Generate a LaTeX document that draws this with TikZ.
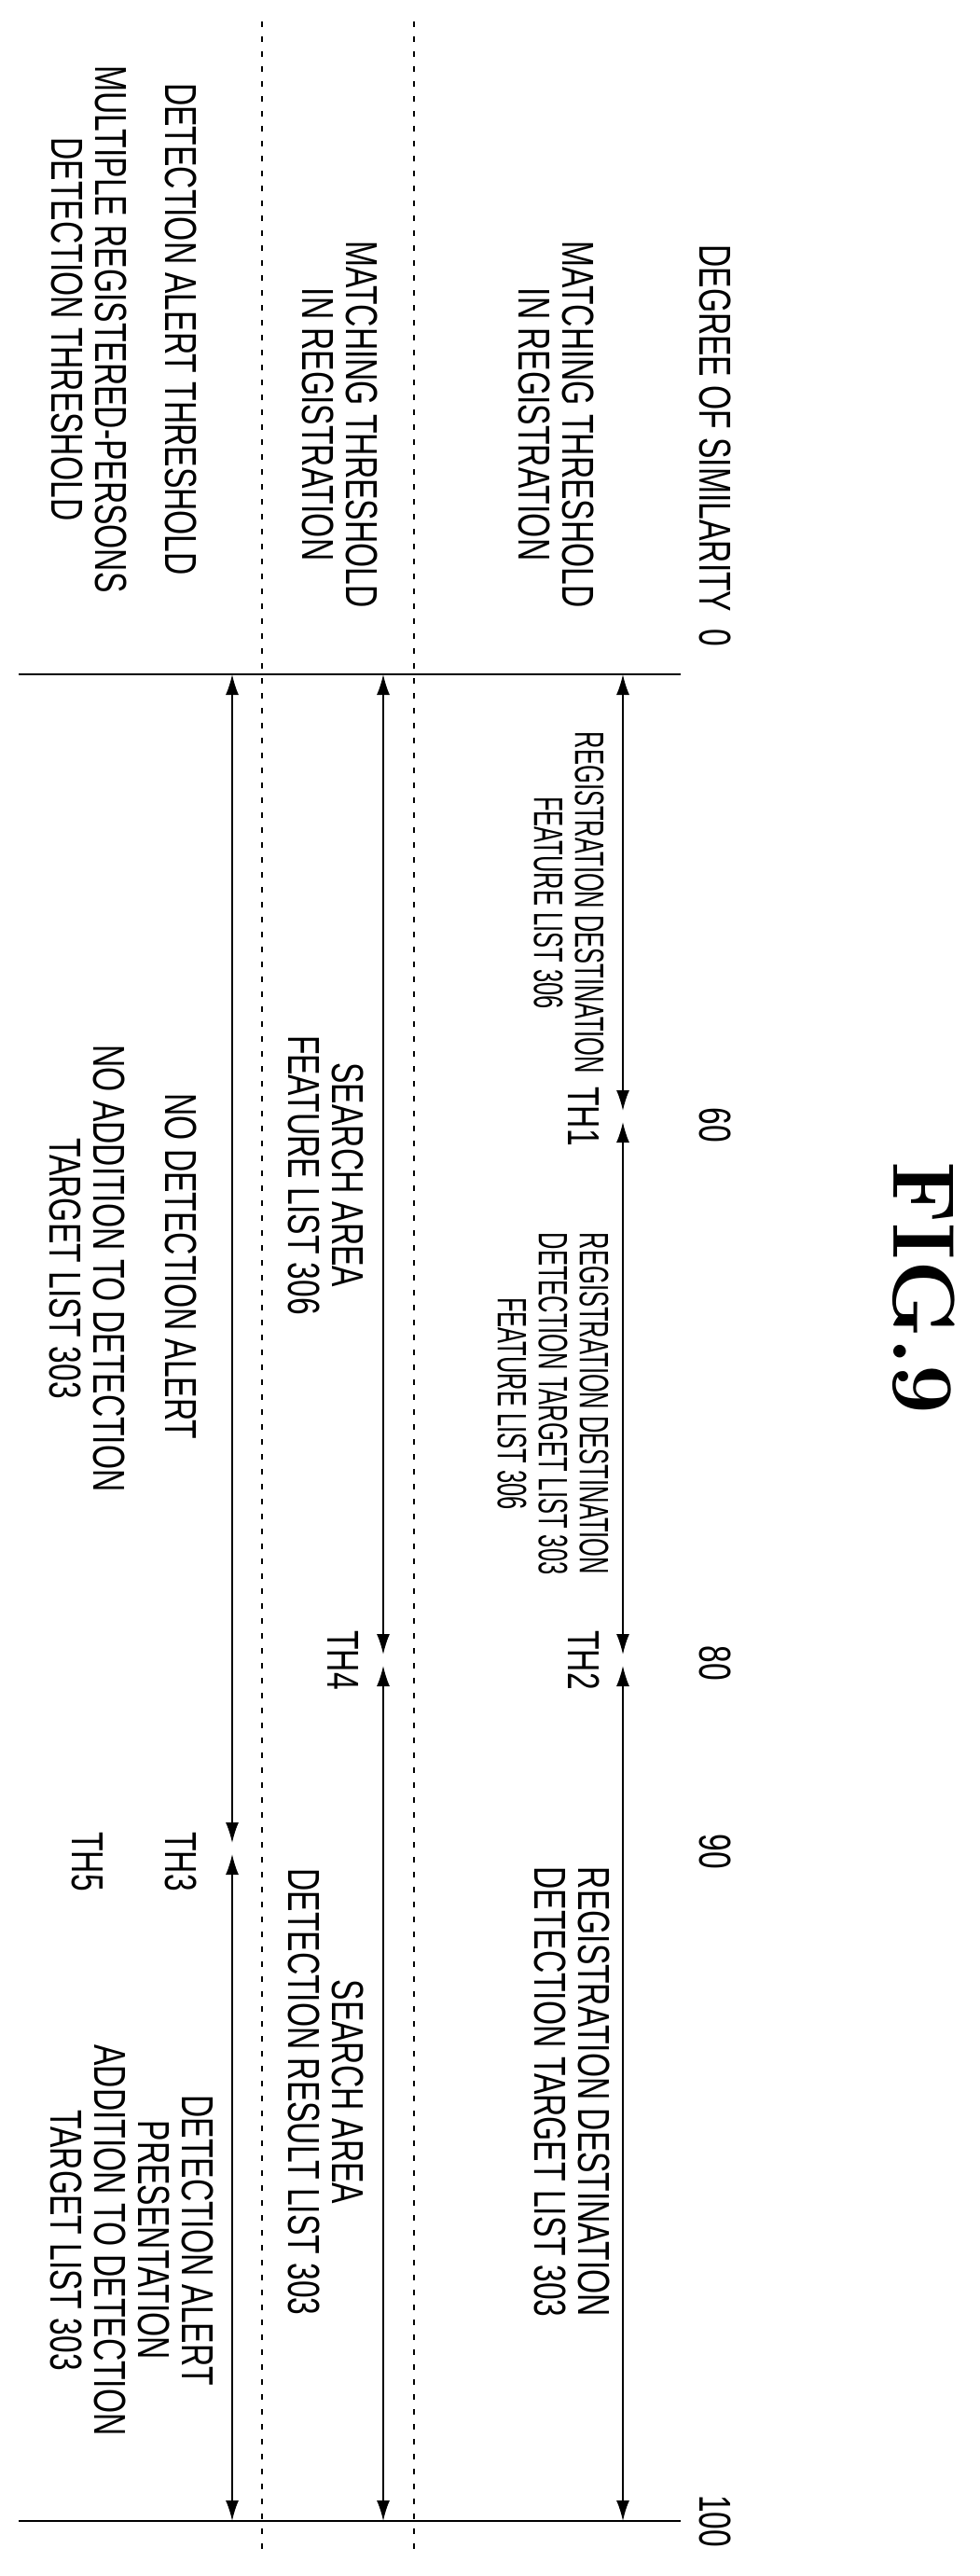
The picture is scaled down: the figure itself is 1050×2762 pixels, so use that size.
\documentclass[tikz,border=0pt]{standalone}
\usepackage{fontspec}
\newfontfamily\figfont[FakeStretch=0.7]{Liberation Sans}
\newfontfamily\tinyfigfont[FakeStretch=0.58]{Liberation Sans}
\usetikzlibrary{arrows.meta}
\tikzset{
  lbl/.style={rotate=-90, align=center, inner sep=0pt, font=\figfont\fontsize{24}{23.5}\selectfont},
  tinylbl/.style={rotate=-90, align=center, inner sep=0pt, font=\tinyfigfont\fontsize{22}{22}\selectfont},
  span/.style={thick, {Latex[length=11pt,width=7pt]}-{Latex[length=11pt,width=7pt]}},
  sep/.style={thick, dash pattern=on 3pt off 5pt}
}
\begin{document}
\begin{tikzpicture}[x=0.5pt,y=-0.5pt]
  \useasboundingbox (0,0) rectangle (1050,2762);
  % scale lines at 0 and 100
  \coordinate (zl) at (20,723);  \coordinate (zr) at (730,723);
  \coordinate (hl) at (20,2703); \coordinate (hr) at (730,2703);
  \draw[thick] (zl) -- (zr);
  \draw[thick] (hl) -- (hr);
  \coordinate (s1t) at (281,23); \coordinate (s1b) at (281,2741);
  \coordinate (s2t) at (444,23); \coordinate (s2b) at (444,2741);
  \draw[sep] (s1t) -- (s1b);
  \draw[sep] (s2t) -- (s2b);
  % degree of similarity
  \node[lbl] (deg) at (767,478) {DEGREE OF SIMILARITY\ \ 0};
  \node[lbl] (n60) at (767,1206) {60};
  \node[lbl] (n80) at (767,1783) {80};
  \node[lbl] (n90) at (767,1985) {90};
  \node[lbl] (n100) at (767,2703) {100};
  \node[rotate=-90, inner sep=0pt, font=\bfseries\fontsize{47}{47}\selectfont] (fig) at (991,1381) {FIG.9};
  % row labels
  \node[lbl] (mreg) at (597,455) {MATCHING THRESHOLD\\IN REGISTRATION};
  \node[lbl] (msrch) at (365,455) {MATCHING THRESHOLD\\IN REGISTRATION};
  \node[lbl] (alert) at (194,353) {DETECTION ALERT THRESHOLD};
  \node[lbl] (multi) at (96,353) {MULTIPLE REGISTERED-PERSONS\\DETECTION THRESHOLD};
  % registration row
  \coordinate (a0) at (668,723);  \coordinate (a1) at (668,1197);
  \coordinate (a2) at (668,1780); \coordinate (a3) at (668,2703);
  \draw[span, shorten >=3pt] (a0) -- (a1);
  \draw[span, shorten <=3pt, shorten >=3pt] (a1) -- (a2);
  \draw[span, shorten <=3pt] (a2) -- (a3);
  \node[tinylbl] (rfeat) at (610,968) {REGISTRATION DESTINATION\\FEATURE LIST 306};
  \node[lbl] (th1) at (626,1197) {TH1};
  \node[tinylbl] (rboth) at (593,1505) {REGISTRATION DESTINATION\\DETECTION TARGET LIST 303\\FEATURE LIST 306};
  \node[lbl] (th2) at (626,1780) {TH2};
  \node[lbl] (rdet) at (614,2243) {REGISTRATION DESTINATION\\DETECTION TARGET LIST 303};
  % search row
  \coordinate (b0) at (411,723); \coordinate (b1) at (411,1780);
  \coordinate (b2) at (411,2703);
  \draw[span, shorten >=3pt] (b0) -- (b1);
  \draw[span, shorten <=3pt] (b1) -- (b2);
  \node[lbl] (sfeat) at (350,1260) {SEARCH AREA\\FEATURE LIST 306};
  \node[lbl] (th4) at (368,1780) {TH4};
  \node[lbl] (sres) at (350,2243) {SEARCH AREA\\DETECTION RESULT LIST 303};
  % alert row
  \coordinate (c0) at (249,723); \coordinate (c1) at (249,1982);
  \coordinate (c2) at (249,2703);
  \draw[span, shorten >=3pt] (c0) -- (c1);
  \draw[span, shorten <=3pt] (c1) -- (c2);
  \node[lbl] (noalert) at (194,1358) {NO DETECTION ALERT};
  \node[lbl] (noadd) at (94,1360) {NO ADDITION TO DETECTION\\TARGET LIST 303};
  \node[lbl] (th3) at (194,1996) {TH3};
  \node[lbl] (th5) at (94,1996) {TH5};
  \node[lbl] (yalert) at (142,2402) {DETECTION ALERT\\PRESENTATION\\ADDITION TO DETECTION\\TARGET LIST 303};
\end{tikzpicture}
\end{document}
